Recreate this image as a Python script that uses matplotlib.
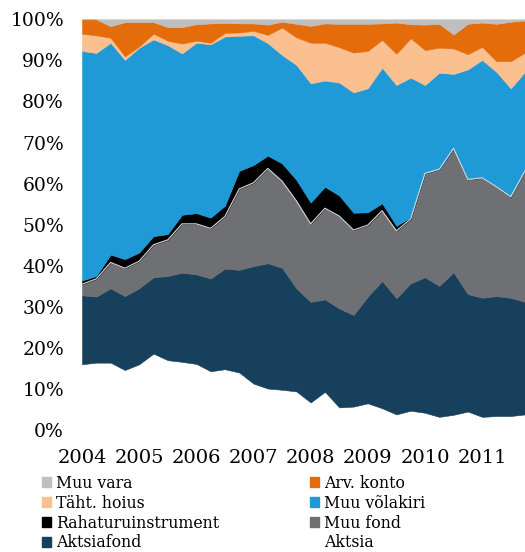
import numpy as np
import matplotlib
matplotlib.use("Agg")
import matplotlib.pyplot as plt
from matplotlib.patches import Patch

plt.rcParams['font.family'] = ['DejaVu Serif']

years = ["2004", "2005", "2006", "2007", "2008", "2009", "2010", "2011"]
quarters = np.arange(32)

aktsia = [16.0, 16.4, 16.4, 14.6, 16.0, 18.6, 17.0, 16.6, 16.1, 14.3, 14.8, 14.0, 11.3, 10.1, 9.8, 9.4,
          6.7, 9.3, 5.5, 5.7, 6.5, 5.3, 3.8, 4.7, 4.2, 3.2, 3.7, 4.5, 3.2, 3.4, 3.4, 3.8]
aktsiafond = [16.8, 16.1, 18.1, 18.0, 18.5, 18.6, 20.5, 21.7, 21.8, 22.6, 24.5, 25.0, 28.6, 30.5, 29.7, 25.1,
              24.5, 22.5, 24.1, 22.3, 26.0, 31.0, 28.3, 31.0, 33.0, 31.9, 34.7, 28.6, 29.0, 29.2, 28.8, 27.4]
muu_fond = [2.7, 4.3, 6.3, 6.8, 6.6, 7.9, 8.8, 11.9, 12.3, 12.2, 12.7, 19.7, 20.3, 23.1, 21.1, 21.3,
            19.0, 22.2, 22.5, 20.7, 17.4, 17.1, 16.4, 15.7, 25.3, 28.4, 30.2, 27.9, 29.2, 26.6, 24.6, 31.9]
rahaturu = [0.9, 0.7, 1.9, 2.2, 2.1, 2.1, 1.4, 2.2, 2.6, 2.6, 2.6, 4.4, 4.3, 3.1, 4.3, 5.1,
            5.2, 5.2, 5.0, 4.2, 3.1, 1.8, 1.2, 0.4, 0.0, 0.0, 0.0, 0.0, 0.0, 0.0, 0.0, 0.0]
muu_volakiri = [55.9, 54.3, 51.6, 48.5, 49.9, 47.9, 46.0, 39.3, 41.5, 42.2, 41.2, 32.9, 31.6, 27.4, 26.4, 28.0,
                29.0, 25.9, 27.5, 29.3, 30.2, 33.0, 34.3, 34.0, 21.5, 23.5, 18.1, 26.8, 28.7, 28.0, 26.4, 24.1]
taht_hoius = [4.2, 4.3, 1.2, 0.9, 0.3, 1.4, 1.1, 2.4, 0.5, 0.4, 0.9, 0.8, 1.1, 2.0, 6.7, 6.7,
              9.9, 9.2, 8.6, 9.7, 9.1, 6.8, 7.6, 9.6, 8.5, 6.1, 6.2, 3.7, 3.2, 2.6, 6.6, 4.7]
arv_konto = [3.5, 3.9, 2.8, 8.3, 5.9, 2.8, 3.3, 4.0, 4.0, 4.7, 2.4, 2.2, 1.8, 2.5, 1.4, 3.3,
             4.1, 4.7, 5.7, 7.0, 6.6, 4.0, 7.6, 3.4, 6.2, 5.8, 3.4, 7.4, 5.9, 9.1, 9.6, 7.8]
muu_vara = [0.0, 0.0, 1.7, 0.7, 0.7, 0.7, 1.9, 1.9, 1.2, 1.0, 0.9, 1.0, 1.0, 1.3, 0.6, 1.1,
            1.6, 1.0, 1.1, 1.1, 1.1, 1.0, 0.8, 1.2, 1.3, 1.1, 3.7, 1.1, 0.8, 1.1, 0.6, 0.3]

labels = ["Aktsia", "Aktsiafond", "Muu fond", "Rahaturuinstrument",
          "Muu võlakiri", "Täht. hoius", "Arv. konto", "Muu vara"]
colors = ["#ffffff", "#17405d", "#6f7073", "#000000",
          "#1f9ad6", "#fac090", "#e46c0a", "#bfbfbf"]

series = [aktsia, aktsiafond, muu_fond, rahaturu, muu_volakiri, taht_hoius, arv_konto, muu_vara]

fig = plt.figure(figsize=(5.25, 5.52), dpi=100)
ax = fig.add_axes([82 / 525, 1 - 430 / 552, 443 / 525, (430 - 19.3) / 552])
polys = ax.stackplot(quarters, *series, colors=colors, linewidth=0.4)
for p, c in zip(polys, colors):
    p.set_edgecolor(c)

cum = np.cumsum(np.array(series), axis=0)
ax.plot(quarters, cum[2], color="#d9d9d9", lw=0.8)

ax.set_xlim(0, 31)
ax.set_ylim(0, 100)
for s in ax.spines.values():
    s.set_visible(False)
ax.set_yticks(np.arange(0, 101, 10))
ax.set_yticklabels([f"{v}%" for v in range(0, 101, 10)], fontsize=13.5)
ax.set_xticks(np.arange(0, 32, 4))
ax.set_xticklabels(years, fontsize=14)
ax.tick_params(axis="y", length=0, pad=13)
ax.tick_params(axis="x", length=0, pad=14)

def handle(c):
    return Patch(facecolor=c, edgecolor=c)

left_items = [("Muu vara", "#bfbfbf"), ("Täht. hoius", "#fac090"),
              ("Rahaturuinstrument", "#000000"), ("Aktsiafond", "#17405d")]
right_items = [("Arv. konto", "#e46c0a"), ("Muu võlakiri", "#1f9ad6"),
               ("Muu fond", "#6f7073"), ("Aktsia", "#ffffff")]

common = dict(loc="upper left", frameon=False, borderpad=0, borderaxespad=0,
              handlelength=0.6, handleheight=0.6, handletextpad=0.3,
              labelspacing=0.18, prop={"size": 11.3})
fig.legend([handle(c) for _, c in left_items], [t for t, _ in left_items],
           bbox_to_anchor=(42 / 525, 1 - 475 / 552), **common)
fig.legend([handle(c) for _, c in right_items], [t for t, _ in right_items],
           bbox_to_anchor=(310 / 525, 1 - 475 / 552), **common)

fig.savefig("out.png", dpi=100)
